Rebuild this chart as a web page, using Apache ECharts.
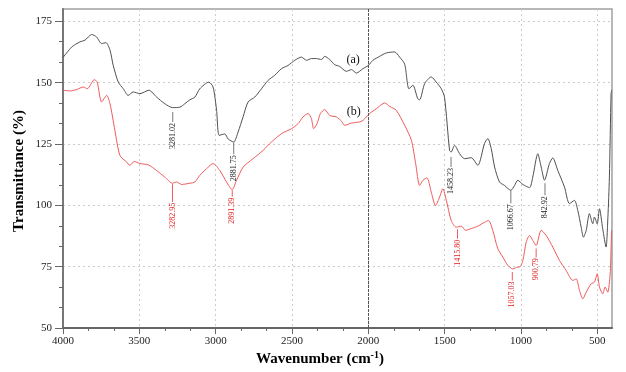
<!DOCTYPE html>
<html><head><meta charset="utf-8">
<script src="https://cdn.jsdelivr.net/npm/echarts@6/dist/echarts.min.js"></script>
<style>html,body{margin:0;padding:0;background:#fff}#c{width:626px;height:372px}</style>
</head><body><div id="c"></div>
<script>
// Curve (a)
const waveA = [4000,3943,3889,3856,3812,3780,3747,3719,3692,3671,3638,3605,3573,3540,3496,3437,3387,3333,3282,3234,3202,3169,3136,3104,3045,3017,2994,2977,2940,2918,2882,2853,2820,2788,2744,2700,2657,2613,2569,2526,2482,2438,2405,2373,2340,2307,2286,2253,2220,2188,2144,2111,2078,2035,2000,1970,1926,1882,1828,1795,1762,1734,1708,1677,1664,1631,1588,1555,1522,1501,1468,1458,1435,1402,1370,1326,1283,1239,1217,1195,1173,1141,1108,1067,1043,1021,988,944,923,890,868,846,814,792,759,715,683,650,628,606,591,573,552,530,519,501,486,465,443,431,421,410,405];
const transA = [160.2,164.5,166.6,167.3,169.6,168.6,165.9,166.3,163.2,157,150.2,147.5,144.8,146.2,145.5,146.9,144.1,141.4,139.8,140,141.4,143,144.1,147.5,150.2,148.2,138.7,128.5,129.1,127,125.8,129.9,136.1,142.1,144.1,147.5,150.9,153,155.7,157,159.1,160.4,159.1,159.8,159.8,159.4,160.7,159.4,157.3,156.6,154.6,155.3,153.9,155.7,157,159.1,160.7,162.1,162.5,160.4,157.5,147.5,148.9,143.5,143,149.6,152.3,150.2,147.5,144,122.4,121.7,124.4,121,119,119.4,116.3,125.2,127.2,123.1,115.6,109.5,108.1,106.1,108,110.2,108.5,107.2,111.5,121,115.6,110.2,117,119.3,114.2,107.4,100.7,102,97.9,91.1,87,89.8,96.6,92.5,95.2,92.5,98.6,90.5,83,95,111.5,145.5,147];
// Curve (b)
const waveB = [4000,3954,3910,3867,3841,3795,3776,3747,3714,3692,3660,3627,3583,3562,3533,3496,3442,3387,3333,3283,3256,3223,3169,3136,3104,3060,3017,2973,2929,2892,2863,2820,2755,2689,2635,2569,2504,2460,2428,2395,2373,2358,2336,2314,2286,2253,2209,2176,2155,2111,2057,2035,1991,1947,1893,1860,1817,1762,1718,1690,1664,1642,1616,1588,1560,1533,1512,1489,1457,1424,1391,1363,1326,1283,1239,1213,1185,1152,1119,1086,1054,1021,1010,988,966,944,923,901,868,835,792,748,704,661,638,617,595,573,541,519,501,486,465,449,432,416,407];
const transB = [146.9,146.6,147.2,148.2,147.5,151.2,150.2,142.1,144.8,141.4,130.5,120.3,117.6,116.3,117.9,117,116.5,114.2,111.5,109,109.5,108.5,109,109.5,112.2,114.9,117,114.2,109.5,106.4,110.2,115.6,119,122.4,125.8,129.2,131.2,133.3,136,137.4,135.3,131.2,133.3,137.4,139,136.6,136,134.3,132.6,133.5,134,134.6,137.4,139.4,141.7,140.3,138.7,132.6,126.5,117,108.1,110.2,111.2,105.4,99.9,103.4,106.8,102,93.8,91.1,91.5,89.8,90.5,91.5,93.1,93.8,89.8,82.3,78.9,75.5,74.1,74.8,74.8,77.5,85,87.7,85.7,83.6,89.8,87.7,83,77.5,73.4,69.4,70,65.3,61.9,64.6,68,68.7,72.1,66.7,63.9,66.7,64.6,72.1,90];

// Peak annotations
const peakWaveA = [3281.02, 2881.75, 1458.23, 1066.67, 842.92];
const peakTextA = ['3281.02', '2881.75', '1458.23', '1066.67', '842.92'];
const peakTopA = [138.0, 125.7, 119.7, 106.1, 109.0];
const peakBotA = [134.0, 120.8, 115.6, 100.8, 104.1];
const peakWaveB = [3282.95, 2891.39, 1415.80, 1057.03, 900.79];
const peakTextB = ['3282.95', '2891.39', '1415.80', '1057.03', '900.79'];
const peakTopB = [108.6, 106.1, 90.2, 72.8, 82.4];
const peakBotB = [101.4, 103.5, 86.4, 69.4, 78.8];

// Curve tags
const tagText = ['(a)', '(b)'];
const tagWave = [2100, 2095];
const tagTrans = [159.1, 138.0];

// Axis ticks
const xTicks = [500, 1000, 1500, 2000, 2500, 3000, 3500, 4000];
const yTicks = [50, 75, 100, 125, 150, 175];
const xMinor = [];
for (let i = 0; i < xTicks.length - 1; i++) { xMinor.push(xTicks[i] + 500 / 3, xTicks[i] + 1000 / 3); }
const yMinor = [];
for (let i = 0; i < yTicks.length - 1; i++) { yMinor.push(yTicks[i] + 25 / 3, yTicks[i] + 50 / 3); }

const colA = '#505050', colB = '#f05a5a';
const serif = '"Liberation Serif", "DejaVu Serif", serif';

function pairs(xs, ys) { return xs.map((x, i) => [x, ys[i]]); }

function peakSeries(waves, texts, tops, bots, lineCol, textCol) {
  return {
    type: 'custom', xAxisIndex: 0, yAxisIndex: 0, clip: false, silent: true, z: 5,
    data: waves.map((w, i) => [w, tops[i], bots[i]]),
    encode: { x: 0, y: [1, 2] },
    renderItem: function (params, api) {
      const i = params.dataIndex;
      const p1 = api.coord([waves[i], tops[i]]);
      const p2 = api.coord([waves[i], bots[i]]);
      return {
        type: 'group',
        children: [
          { type: 'line', shape: { x1: p1[0], y1: p1[1], x2: p2[0], y2: p2[1] }, style: { stroke: lineCol, lineWidth: 1 } },
          { type: 'text', x: p2[0], y: p2[1] + 1, rotation: Math.PI / 2,
            style: { text: texts[i], textAlign: 'right', textVerticalAlign: 'middle', font: '8px ' + serif, fill: textCol } }
        ]
      };
    }
  };
}

const chart = echarts.init(document.getElementById('c'), null, { renderer: 'canvas' });
const axisLabelStyle = { color: '#222', fontFamily: serif, fontSize: 11, formatter: function (v) { return String(v); } };
chart.setOption({
  animation: false,
  backgroundColor: '#fff',
  grid: { left: 63, right: 14, top: 9, bottom: 44, show: true, borderColor: '#a0a0a0', borderWidth: 1.5 },
  xAxis: [{
    type: 'value', inverse: true, min: 404, max: 4000,
    axisLine: { show: true, lineStyle: { color: '#666', width: 2 } },
    axisTick: { show: true, length: 6, customValues: xTicks, lineStyle: { color: '#666' } },
    axisLabel: { customValues: xTicks, margin: 8, ...axisLabelStyle },
    splitLine: { show: true, lineStyle: { color: '#cccccc', type: [2, 3], width: 1 } }
  }, {
    type: 'value', inverse: true, min: 404, max: 4000, position: 'bottom', gridIndex: 0,
    axisLine: { show: false },
    axisTick: { show: true, length: 3, customValues: xMinor, lineStyle: { color: '#666' } },
    axisLabel: { show: false }, splitLine: { show: false }
  }],
  yAxis: [{
    type: 'value', min: 50, max: 180,
    axisLine: { show: true, lineStyle: { color: '#777', width: 2 } },
    axisTick: { show: true, length: 8, customValues: yTicks, lineStyle: { color: '#666' } },
    axisLabel: { customValues: yTicks, margin: 11, ...axisLabelStyle },
    splitLine: { show: true, lineStyle: { color: '#cccccc', type: [2, 3], width: 1 } }
  }, {
    type: 'value', min: 50, max: 180, position: 'left', gridIndex: 0,
    axisLine: { show: false },
    axisTick: { show: true, length: 4, customValues: yMinor, lineStyle: { color: '#666' } },
    axisLabel: { show: false }, splitLine: { show: false }
  }],
  series: [
    { type: 'line', name: 'a', data: pairs(waveA, transA), showSymbol: false, smooth: 0.25,
      lineStyle: { color: colA, width: 1 }, itemStyle: { color: colA }, z: 3,
      markLine: { silent: true, symbol: 'none', label: { show: false },
        lineStyle: { color: '#555', type: [3, 1], width: 1 }, data: [{ xAxis: 2000 }] } },
    { type: 'line', name: 'b', data: pairs(waveB, transB), showSymbol: false, smooth: 0.25,
      lineStyle: { color: colB, width: 1 }, itemStyle: { color: colB }, z: 3 },
    peakSeries(peakWaveA, peakTextA, peakTopA, peakBotA, '#777', '#222'),
    peakSeries(peakWaveB, peakTextB, peakTopB, peakBotB, colB, '#e02020'),
    {
      type: 'custom', clip: false, silent: true, z: 6,
      data: tagWave.map((w, i) => [w, tagTrans[i]]),
      encode: { x: 0, y: 1 },
      renderItem: function (params, api) {
        const i = params.dataIndex;
        const p = api.coord([tagWave[i], tagTrans[i]]);
        return { type: 'text', x: p[0], y: p[1],
          style: { text: tagText[i], textAlign: 'center', textVerticalAlign: 'middle', font: '12px ' + serif, fill: '#111' } };
      }
    }
  ],
  graphic: [
    { type: 'text', x: 0, y: 0, silent: true,
      style: { text: 'Wavenumber (cm{sup|-1})', x: 320, y: 359, textAlign: 'center', textVerticalAlign: 'middle',
        font: 'bold 15px ' + serif, fill: '#000',
        rich: { sup: { fontSize: 10, fontWeight: 'bold', fontFamily: serif, verticalAlign: 'top', padding: [0, 0, 8, 0] } } } },
    { type: 'text', x: 19, y: 171, rotation: Math.PI / 2, silent: true,
      style: { text: 'Transmittance (%)', textAlign: 'center', textVerticalAlign: 'middle', font: 'bold 15px ' + serif, fill: '#000' } }
  ]
});
</script>
</body></html>
